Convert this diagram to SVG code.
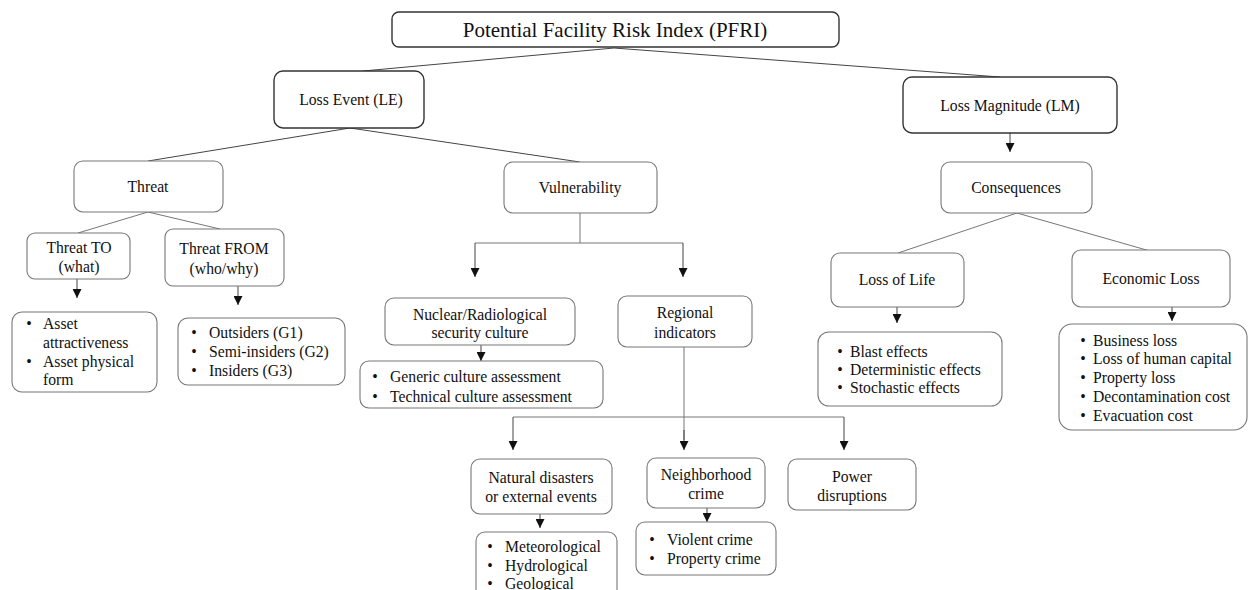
<svg xmlns="http://www.w3.org/2000/svg" width="1248" height="590" viewBox="0 0 1248 590">
<defs>
<marker id="ah" markerUnits="userSpaceOnUse" markerWidth="9" markerHeight="9" refX="9" refY="4.5" orient="auto">
<path d="M0,0 L9,4.5 L0,9 z" fill="#111"/>
</marker>
<style>
.t{font-family:"Liberation Serif","Times New Roman",serif;font-size:15.7px;fill:#111;}
.c{text-anchor:middle;}
.b{text-anchor:middle;}
.main{fill:#fff;stroke:#333;stroke-width:1.4;}
.box{fill:#fff;stroke:#777;stroke-width:1.1;}
.ln{fill:none;stroke:#444;stroke-width:1;}
.lg{fill:none;stroke:#777;stroke-width:1;}
.ar{fill:none;stroke:#444;stroke-width:1;marker-end:url(#ah);}
</style>
</defs>
<rect width="1248" height="590" fill="#fff"/>

<g id="connectors">
<line class="ln" x1="614" y1="48" x2="363" y2="71"/>
<line class="ln" x1="614" y1="48" x2="1000" y2="77"/>
<line class="ln" x1="350" y1="128" x2="148" y2="161"/>
<line class="ln" x1="350" y1="128" x2="580" y2="162"/>
<line class="lg" x1="148" y1="212" x2="78" y2="233"/>
<line class="lg" x1="148" y1="212" x2="220" y2="229"/>
<line class="ar" x1="77" y1="279" x2="77" y2="298"/>
<line class="ar" x1="238" y1="286" x2="238" y2="305"/>
<path class="lg" d="M580,213 V243 M475,243 H683"/>
<line class="ar" x1="475" y1="243" x2="475" y2="277"/>
<line class="ar" x1="683" y1="243" x2="683" y2="277"/>
<line class="ar" x1="481" y1="345" x2="481" y2="361"/>
<line class="lg" x1="684" y1="347" x2="684" y2="440"/>
<line class="ar" x1="684" y1="430" x2="684" y2="450"/>
<path class="lg" d="M513,417 H844"/>
<line class="ar" x1="513" y1="417" x2="513" y2="450"/>
<line class="ar" x1="844" y1="417" x2="844" y2="450"/>
<line class="ar" x1="540" y1="514" x2="540" y2="528"/>
<line class="ar" x1="707" y1="508" x2="707" y2="522"/>
<line class="ar" x1="1010" y1="133" x2="1010" y2="152"/>
<line class="lg" x1="1017" y1="213" x2="898" y2="253"/>
<line class="lg" x1="1017" y1="213" x2="1150" y2="251"/>
<line class="ar" x1="897" y1="307" x2="897" y2="323"/>
<line class="ar" x1="1172" y1="307" x2="1172" y2="321"/>
</g>

<g id="pfri">
<rect class="main" x="392" y="12" width="447" height="35" rx="7"/>
<text class="t c" x="615" y="37" style="font-size:21px">Potential Facility Risk Index (PFRI)</text>
</g>
<g id="loss-event">
<rect class="main" x="274" y="71" width="150" height="57" rx="9"/>
<text class="t c" x="351" y="105">Loss Event (LE)</text>
</g>
<g id="loss-magnitude">
<rect class="main" x="903" y="77" width="214" height="56" rx="9"/>
<text class="t c" x="1010" y="111">Loss Magnitude (LM)</text>
</g>
<g id="threat">
<rect class="box" x="74" y="161" width="149" height="51" rx="9"/>
<text class="t c" x="148" y="192">Threat</text>
</g>
<g id="vulnerability">
<rect class="box" x="504" y="162" width="153" height="51" rx="9"/>
<text class="t c" x="580" y="193">Vulnerability</text>
</g>
<g id="consequences">
<rect class="box" x="941" y="162" width="151" height="51" rx="9"/>
<text class="t c" x="1016" y="193">Consequences</text>
</g>
<g id="threat-to">
<rect class="box" x="27" y="233" width="103" height="46" rx="8"/>
<text class="t c" x="79" y="253">Threat TO</text>
<text class="t c" x="79" y="272">(what)</text>
</g>
<g id="threat-from">
<rect class="box" x="165" y="229" width="119" height="57" rx="8"/>
<text class="t c" x="224" y="254">Threat FROM</text>
<text class="t c" x="224" y="274">(who/why)</text>
</g>
<g id="asset-list">
<rect class="box" x="12" y="312" width="145" height="80" rx="10"/>
<text class="t b" x="29" y="329">•</text>
<text class="t" x="43" y="329">Asset</text>
<text class="t" x="43" y="348">attractiveness</text>
<text class="t b" x="29" y="367">•</text>
<text class="t" x="43" y="367">Asset physical</text>
<text class="t" x="43" y="385">form</text>
</g>
<g id="threat-groups">
<rect class="box" x="178" y="318" width="167" height="67" rx="10"/>
<text class="t b" x="194" y="338">•</text>
<text class="t" x="209" y="338">Outsiders (G1)</text>
<text class="t b" x="194" y="357">•</text>
<text class="t" x="209" y="357">Semi-insiders (G2)</text>
<text class="t b" x="194" y="376">•</text>
<text class="t" x="209" y="376">Insiders (G3)</text>
</g>
<g id="nuclear-culture">
<rect class="box" x="385" y="298" width="190" height="47" rx="9"/>
<text class="t c" x="480" y="320">Nuclear/Radiological</text>
<text class="t c" x="480" y="338">security culture</text>
</g>
<g id="culture-list">
<rect class="box" x="360" y="361" width="243" height="47" rx="9"/>
<text class="t b" x="375" y="382">•</text>
<text class="t" x="390" y="382">Generic culture assessment</text>
<text class="t b" x="375" y="402">•</text>
<text class="t" x="390" y="402">Technical  culture assessment</text>
</g>
<g id="regional">
<rect class="box" x="618" y="296" width="134" height="51" rx="9"/>
<text class="t c" x="685" y="318">Regional</text>
<text class="t c" x="685" y="338">indicators</text>
</g>
<g id="natural">
<rect class="box" x="471" y="459" width="141" height="55" rx="9"/>
<text class="t c" x="541" y="483">Natural disasters</text>
<text class="t c" x="541" y="502">or external events</text>
</g>
<g id="natural-list">
<rect class="box" x="476" y="532" width="141" height="80" rx="9"/>
<text class="t b" x="490" y="552">•</text>
<text class="t" x="505" y="552">Meteorological</text>
<text class="t b" x="490" y="571">•</text>
<text class="t" x="505" y="571">Hydrological</text>
<text class="t b" x="490" y="589">•</text>
<text class="t" x="505" y="589">Geological</text>
</g>
<g id="neighborhood">
<rect class="box" x="647" y="458" width="118" height="50" rx="9"/>
<text class="t c" x="706" y="480">Neighborhood</text>
<text class="t c" x="706" y="499">crime</text>
</g>
<g id="crime-list">
<rect class="box" x="636" y="522" width="140" height="53" rx="9"/>
<text class="t b" x="652" y="545">•</text>
<text class="t" x="667" y="545">Violent crime</text>
<text class="t b" x="652" y="564">•</text>
<text class="t" x="667" y="564">Property crime</text>
</g>
<g id="power">
<rect class="box" x="788" y="459" width="128" height="51" rx="9"/>
<text class="t c" x="852" y="482">Power</text>
<text class="t c" x="852" y="501">disruptions</text>
</g>
<g id="loss-of-life">
<rect class="box" x="831" y="253" width="133" height="54" rx="9"/>
<text class="t c" x="897" y="285">Loss of Life</text>
</g>
<g id="economic-loss">
<rect class="box" x="1072" y="250" width="158" height="57" rx="9"/>
<text class="t c" x="1151" y="284">Economic Loss</text>
</g>
<g id="life-list">
<rect class="box" x="818" y="332" width="184" height="74" rx="11"/>
<text class="t b" x="840" y="357">•</text>
<text class="t" x="850" y="357">Blast  effects</text>
<text class="t b" x="840" y="375">•</text>
<text class="t" x="850" y="375">Deterministic  effects</text>
<text class="t b" x="840" y="393">•</text>
<text class="t" x="850" y="393">Stochastic effects</text>
</g>
<g id="economic-list">
<rect class="box" x="1059" y="324" width="188" height="106" rx="13"/>
<text class="t b" x="1083" y="346">•</text>
<text class="t" x="1093" y="346">Business loss</text>
<text class="t b" x="1083" y="364">•</text>
<text class="t" x="1093" y="364">Loss of human capital</text>
<text class="t b" x="1083" y="383">•</text>
<text class="t" x="1093" y="383">Property loss</text>
<text class="t b" x="1083" y="402">•</text>
<text class="t" x="1093" y="402">Decontamination cost</text>
<text class="t b" x="1083" y="421">•</text>
<text class="t" x="1093" y="421">Evacuation cost</text>
</g>
</svg>
